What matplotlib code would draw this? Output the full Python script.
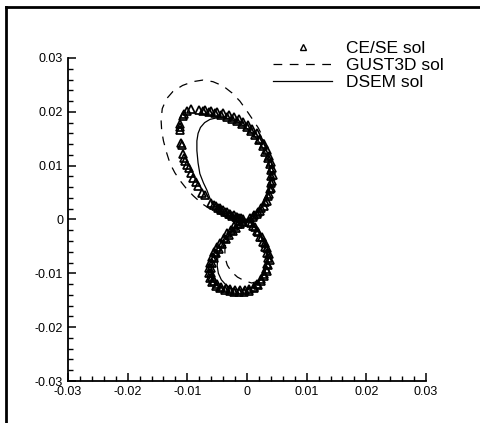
import matplotlib
matplotlib.use("Agg")
import matplotlib.pyplot as plt
from matplotlib.lines import Line2D
from matplotlib.ticker import MultipleLocator, FuncFormatter

plt.rcParams['font.family'] = ['Liberation Sans', 'DejaVu Sans']

# CE/SE solution (triangles): upper loop, upper loop outer row,
# lower loop, lower loop outer row, points near the crossing
cese_x = [0.0005, 0.0012, 0.0018, 0.0024, 0.0030, 0.0035, 0.0038, 0.0040, 0.0041, 0.0040,
          0.0038, 0.0035, 0.0031, 0.0026, 0.0020, 0.0014, 0.0007, 0.0000, -0.0008, -0.0016,
          -0.0025, -0.0034, -0.0044, -0.0054, -0.0064, -0.0074, -0.0080, -0.0094, -0.0100, -0.0105,
          -0.0108, -0.0112, -0.0112, -0.0112, -0.0110, -0.0109, -0.0108, -0.0106, -0.0104, -0.0101,
          -0.0098, -0.0094, -0.0090, -0.0086, -0.0082, -0.0075, -0.0070, -0.0060, -0.0055, -0.0049,
          -0.0043, -0.0037, -0.0031, -0.0025, -0.0019, -0.0013, -0.0007,
          0.0010, 0.0016, 0.0022, 0.0028, 0.0033, 0.0037, 0.0040, 0.0042, 0.0043, 0.0042,
          0.0040, 0.0037, 0.0033, 0.0028, 0.0022, 0.0016, 0.0009, 0.0002, -0.0006, -0.0014,
          -0.0022, -0.0030, -0.0040, -0.0050, -0.0060, -0.0070,
          -0.0006, -0.0012, -0.0018, -0.0024, -0.0030, -0.0036, -0.0042, -0.0047, -0.0052, -0.0056,
          -0.0059, -0.0061, -0.0061, -0.0059, -0.0055, -0.0050, -0.0043, -0.0036, -0.0028, -0.0020,
          -0.0012, -0.0004, 0.0004, 0.0011, 0.0017, 0.0023, 0.0028, 0.0032, 0.0034, 0.0035,
          0.0034, 0.0031, 0.0027, 0.0022, 0.0016, 0.0010, 0.0004,
          -0.0009, -0.0015, -0.0021, -0.0027, -0.0033, -0.0039, -0.0045, -0.0050, -0.0055, -0.0059,
          -0.0062, -0.0064, -0.0064, -0.0062, -0.0058, -0.0052, -0.0045, -0.0037, -0.0029, -0.0021,
          -0.0013, -0.0005, 0.0003, 0.0011, 0.0018, 0.0024, 0.0029, 0.0034, 0.0036, 0.0038,
          0.0037, 0.0034, 0.0030, 0.0025, 0.0019, 0.0013, 0.0007,
          -0.0010, -0.0016, -0.0022, -0.0028, -0.0034, -0.0040, -0.0046, -0.0052]
cese_y = [0.0003, 0.0008, 0.0014, 0.0022, 0.0032, 0.0044, 0.0056, 0.0068, 0.0080, 0.0092,
          0.0104, 0.0115, 0.0126, 0.0137, 0.0148, 0.0157, 0.0165, 0.0172, 0.0178, 0.0183,
          0.0187, 0.0191, 0.0195, 0.0198, 0.0200, 0.0202, 0.0203, 0.0205, 0.0201, 0.0196,
          0.0192, 0.0178, 0.0172, 0.0166, 0.0143, 0.0138, 0.0121, 0.0115, 0.0109, 0.0102,
          0.0095, 0.0086, 0.0078, 0.0070, 0.0063, 0.0050, 0.0045, 0.0031, 0.0027, 0.0022,
          0.0018, 0.0014, 0.0010, 0.0007, 0.0004, 0.0002, 0.0001,
          0.0004, 0.0010, 0.0016, 0.0025, 0.0035, 0.0047, 0.0059, 0.0071, 0.0083, 0.0095,
          0.0107, 0.0118, 0.0129, 0.0140, 0.0150, 0.0160, 0.0168, 0.0175, 0.0181, 0.0186,
          0.0190, 0.0194, 0.0197, 0.0200, 0.0202, 0.0204,
          -0.0004, -0.0009, -0.0015, -0.0021, -0.0028, -0.0036, -0.0045, -0.0054, -0.0063, -0.0072,
          -0.0081, -0.0090, -0.0099, -0.0107, -0.0114, -0.0120, -0.0125, -0.0128, -0.0130, -0.0131,
          -0.0131, -0.0131, -0.0129, -0.0125, -0.0119, -0.0111, -0.0102, -0.0092, -0.0082, -0.0072,
          -0.0062, -0.0052, -0.0042, -0.0032, -0.0022, -0.0013, -0.0005,
          -0.0003, -0.0008, -0.0013, -0.0019, -0.0026, -0.0034, -0.0043, -0.0052, -0.0061, -0.0070,
          -0.0080, -0.0090, -0.0100, -0.0109, -0.0117, -0.0123, -0.0128, -0.0131, -0.0133, -0.0134,
          -0.0134, -0.0134, -0.0132, -0.0128, -0.0122, -0.0114, -0.0105, -0.0095, -0.0085, -0.0075,
          -0.0064, -0.0053, -0.0043, -0.0033, -0.0023, -0.0014, -0.0006,
          0.0003, 0.0005, 0.0008, 0.0011, 0.0014, 0.0017, 0.0021, 0.0025]

# GUST3D solution (dashed)
gust_x = [0.0, 0.0012, 0.0024, 0.0034, 0.0039, 0.0040, 0.0039, 0.0034, 0.0027, 0.0019,
          0.0010, -0.0001, -0.0012, -0.0025, -0.0040, -0.0057, -0.0074, -0.0091, -0.0108, -0.0124,
          -0.0135, -0.0142, -0.0144, -0.0143, -0.0140, -0.0135, -0.0129, -0.0121, -0.0112, -0.0102,
          -0.0090, -0.0076, -0.0060, -0.0044, -0.0028, -0.0013, 0.0,
          -0.0010, -0.0020, -0.0030, -0.0035, -0.0037, -0.0037, -0.0033, -0.0026, -0.0016, -0.0004,
          0.0008, 0.0020, 0.0027, 0.0032, 0.0034, 0.0032, 0.0028, 0.0022, 0.0014, 0.0006, 0.0]
gust_y = [0.0, 0.0008, 0.0022, 0.0042, 0.0060, 0.0080, 0.0100, 0.0125, 0.0152, 0.0170,
          0.0185, 0.0203, 0.0220, 0.0235, 0.0248, 0.0256, 0.0259, 0.0256, 0.0249, 0.0238,
          0.0224, 0.0206, 0.0185, 0.0165, 0.0146, 0.0125, 0.0104, 0.0087, 0.0072, 0.0058,
          0.0044, 0.0030, 0.0018, 0.0010, 0.0005, 0.0002, 0.0,
          -0.0008, -0.0016, -0.0028, -0.0040, -0.0055, -0.0070, -0.0085, -0.0097, -0.0107, -0.0114,
          -0.0118, -0.0114, -0.0102, -0.0088, -0.0072, -0.0056, -0.0042, -0.0029, -0.0016, -0.0006, 0.0]

# DSEM solution (solid)
dsem_x = [0.0, 0.0012, 0.0024, 0.0034, 0.0039, 0.0040, 0.0038, 0.0033, 0.0026, 0.0018,
          0.0008, -0.0003, -0.0014, -0.0026, -0.0038, -0.0050, -0.0062, -0.0071, -0.0078, -0.0082,
          -0.0084, -0.0084, -0.0082, -0.0079, -0.0073, -0.0067, -0.0059, -0.0048, -0.0036, -0.0024,
          -0.0012, 0.0,
          -0.0012, -0.0024, -0.0034, -0.0041, -0.0046, -0.0049, -0.0050, -0.0048, -0.0043, -0.0035,
          -0.0024, -0.0012, 0.0000, 0.0010, 0.0018, 0.0025, 0.0030, 0.0033, 0.0034, 0.0032,
          0.0028, 0.0022, 0.0014, 0.0006, 0.0]
dsem_y = [0.0, 0.0008, 0.0022, 0.0042, 0.0060, 0.0080, 0.0100, 0.0118, 0.0134, 0.0148,
          0.0161, 0.0172, 0.0180, 0.0186, 0.0189, 0.0189, 0.0186, 0.0180, 0.0171, 0.0160,
          0.0146, 0.0128, 0.0105, 0.0085, 0.0068, 0.0054, 0.0030, 0.0019, 0.0011, 0.0005,
          0.0002, 0.0,
          -0.0009, -0.0021, -0.0033, -0.0045, -0.0058, -0.0072, -0.0086, -0.0100, -0.0112, -0.0122,
          -0.0129, -0.0131, -0.0131, -0.0126, -0.0118, -0.0108, -0.0096, -0.0083, -0.0070, -0.0056,
          -0.0042, -0.0029, -0.0016, -0.0006, 0.0]

labels = ["CE/SE sol", "GUST3D sol", "DSEM sol"]

W, H = 481, 423
fig = plt.figure(figsize=(W / 100, H / 100), dpi=100)
ax = fig.add_axes([68 / W, 1 - 381 / H, 358 / W, 323 / H])

ax.plot(cese_x, cese_y, linestyle='none', marker='^', markersize=5.2,
        markerfacecolor='none', markeredgecolor='black', markeredgewidth=1.25,
        label=labels[0])
ax.plot(gust_x, gust_y, color='black', linewidth=0.9, dashes=(7, 6), label=labels[1])
ax.plot(dsem_x, dsem_y, color='black', linewidth=0.9, label=labels[2])

ax.set_xlim(-0.03, 0.03)
ax.set_ylim(-0.03, 0.03)

for side in ('top', 'right'):
    ax.spines[side].set_visible(False)
for side in ('left', 'bottom'):
    ax.spines[side].set_linewidth(1.3)

fmt = FuncFormatter(lambda v, p: '0' if abs(v) < 1e-9 else f'{v:g}')
for axis in (ax.xaxis, ax.yaxis):
    axis.set_major_locator(MultipleLocator(0.01))
    axis.set_minor_locator(MultipleLocator(0.002))
    axis.set_major_formatter(fmt)
ax.tick_params(which='major', direction='in', length=5.5, width=1.1, labelsize=9, pad=3.5)
ax.tick_params(which='minor', direction='in', length=3.5, width=1.0)

leg = ax.legend(loc='upper left', bbox_to_anchor=(273 / W, 1 - 41 / H),
                bbox_transform=fig.transFigure, frameon=False, numpoints=1,
                handlelength=3.4, handletextpad=0.8, labelspacing=0.1,
                borderpad=0, borderaxespad=0, fontsize=12.5)
leg.legend_handles[0].set_markeredgewidth(1.0)
leg.legend_handles[0].set_markersize(4.5)

# outer frame, left and top edges
fig.add_artist(Line2D([6 / W, 6 / W], [0, 1 - 7 / H], transform=fig.transFigure,
                      color='black', linewidth=2))
fig.add_artist(Line2D([6 / W, 1], [1 - 7 / H, 1 - 7 / H], transform=fig.transFigure,
                      color='black', linewidth=2))

fig.savefig("out.png", dpi=100)
